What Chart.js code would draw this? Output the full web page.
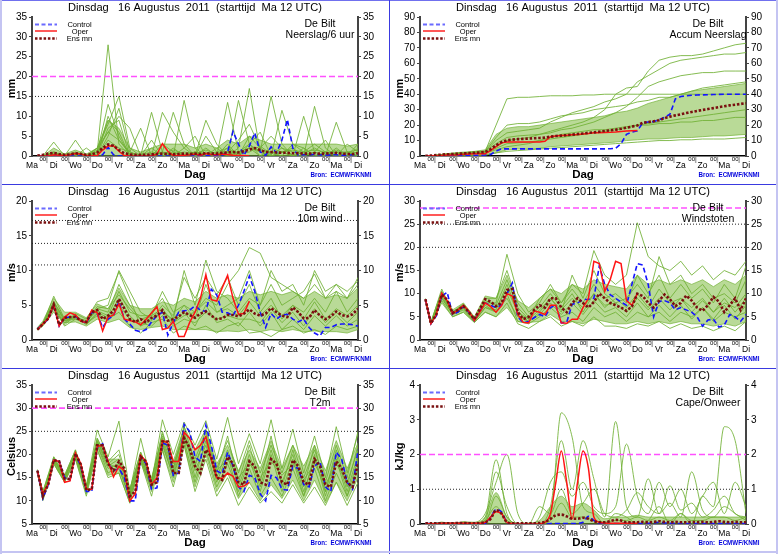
<!DOCTYPE html>
<html>
<head>
<meta charset="utf-8">
<script src="https://cdn.jsdelivr.net/npm/chart.js@4.4.1/dist/chart.umd.min.js"></script>
<style>
  html, body { margin: 0; padding: 0; background: #fff; }
  #wrap { position: relative; width: 778px; height: 554px; overflow: hidden; }
  #wrap canvas { position: absolute; }
  .ln { position: absolute; }
</style>
</head>
<body>
<div id="wrap"></div>
<script>
// ===== Tijdas =====
const tickLabels = ['Ma','00','Di','00','Wo','00','Do','00','Vr','00','Za','00','Zo','00','Ma','00',
                    'Di','00','Wo','00','Do','00','Vr','00','Za','00','Zo','00','Ma','00','Di'];
const hours6 = Array.from({length: 60}, (_, i) => 6 + i * 6);      // 6-uurs stappen
const hours12 = [6].concat(Array.from({length: 30}, (_, i) => 12 + i * 12));

// ===== Neerslag / 6 uur =====
const precipControl = [0,0,0,0, 0,0,0,0, 0,0,0,0.1, 0.3,2.2,0.3,0, 0,0,0,0, 0,0,0,0, 0,0,0,0, 0,0,0.1,0.1,
  0,0.1,0.2,1.0, 6.2,3.0,0.2,2.5, 5.8,1.0,0.2,2.3, 0.8,4.0,9.2,2.0, 0.2,0.3,0.3,0.4, 0.3,0.2,0.3,0.3, 0.2,0.2,0.3,0.3];
const precipOper = [0,0,0,0.3, 0.2,0.1,0.3,0.6, 0.5,0.1,0,0.1, 1.5,2.5,2.6,1.2, 0.1,0,0,0, 0,0,0.5,3.1,
  1.2,0.1,0.1,0.2, 0.3,0.5,0.2,0.6, 0.4,0.3,0.5,0.4, 0.2,0.1,0.1,0];
const precipMean = [0.1,0.3,0.6,0.8, 0.5,0.3,0.4,0.7, 0.5,0.3,0.4,0.9, 2.0,2.9,2.6,1.5, 0.7,0.4,0.3,0.3,
  0.3,0.4,0.5,0.6, 0.5,0.4,0.5,0.6, 0.5,0.6,0.5,0.7, 0.6,0.6,0.8,0.9, 1.0,0.9,1.2,1.6, 2.0,1.5,1.0,1.0,
  0.9,0.8,0.8,0.7, 0.7,0.6,0.6,0.7, 0.6,0.6,0.7,0.8, 0.6,0.5,0.5,0.7];
const precipHi = [0,0,2,0.5,1.5,0.5,2,9,7,2,1,2,3,3,3,2,3,2,4,3,5,4,3,3,3,3,3,3,3,2.5,3];
const precipMembers = [
  [0,0,0.5,0,0,0,1,28,3,0,0,0,0,2,0,0,1,0,3,0,2,0,1,0,0,2,0,1,0,0,1],
  [0,0,1,0,0.5,0,2,8,15,2,0,0,0,0,0,1,0,0,2,0,5,2,0,1,0,0,1,0,2,0,0],
  [0,0,3.5,0,0,0,1,13,5,0,0,4,0,0,14,2,0,0,1,0,3,1,0,0,3,1,0,0,1,0,0],
  [0,0,0,0,4,0,2,6,10,7,0,11,1,11,3,0,5,1,0,14,3,0,2,1,0,0,12.5,2,0,1,0],
  [0,0,0,0,0,2,0,10,4,1,0,0,11,6,2,0,9,3,0,2,17,1,0,11.5,3,2,0,1,0,0,2],
  [0,0,0,0,0,0,0,5,12,1,7,0,1,0,2,5,0,0,13.5,1,2,1,15,3,0,10,1,0,8.5,1,0],
  [0,0,1,0,0,0,0,4,2,1,0,0,3,1,0,0,2,0,1,4,8,2,5,2,0,1,3,1,0,3,1],
  [0,0,0,0,1,0,0,7,9,0,0,2,0,1,0,1,0,2,0,1,3,6,0,1,2,0,1,4,0,0,3],
  [0,0,0.5,0,0.3,0,1.5,6,4,0.5,0,0.5,1,0.5,1,0.5,1.5,0.5,1,1,2,1.5,1,1,1.5,1,1.5,1,1,1,1.5],
  [0,0,0.8,0.2,0.8,0.2,0.5,9,6,0,0.3,1,0.5,1.5,0.5,1,0.5,1,2,0.5,1,2.5,0.5,2,1,0.5,2,0.5,1.5,0.5,1]
];
const precipWarn = [20];
const precipDotted = [15];

// ===== Accum Neerslag =====
const accumControl = [0,0,0,0.1, 0.2,0.3,0.4,0.5, 0.5,0.5,0.5,0.6, 1.0,3.2,4.6,4.6, 4.6,4.6,4.6,4.6,
  4.6,4.6,4.6,4.6, 4.6,4.6,4.6,4.6, 4.6,4.6,4.6,4.6, 4.6,4.6,4.7,5.0, 8.0,14.0,15.5,16.3, 21.5,22.0,22.2,23.5,
  25.0,27.0,37.0,38.5, 39.0,39.3,39.5,39.6, 39.7,39.8,39.9,40.0, 40.0,40.0,40.0,40.0];
const accumOper = [0,0.1,0.2,0.4, 0.6,0.7,0.8,1.1, 1.3,1.4,1.4,1.5, 3.5,6.0,8.5,9.0, 9.0,9.0,9.0,9.0,
  9.0,9.0,9.5,12.5, 13.0,13.2,13.4,13.8, 14.0,14.3,14.6,15.0, 15.1,15.2,15.3,15.5, 15.8,16.2,16.4,16.5];
const accumMean = [0.1,0.3,0.6,0.9, 1.1,1.3,1.5,1.7, 1.9,2.1,2.3,2.6, 4.5,7.0,9.0,10.2, 10.6,10.9,11.1,11.3,
  11.5,11.7,11.9,12.5, 12.9,13.2,13.5,13.8, 14.2,14.6,15.0,15.3, 15.7,16.2,16.6,17.0, 17.6,18.3,19.0,19.8,
  21.5,22.0,22.5,23.2, 24.5,25.5,26.3,27.0, 27.8,28.5,29.2,29.8, 30.4,31.0,31.6,32.2, 32.8,33.2,33.7,34.2];
const accumLo = [0,0,0,0,0.3,0.5,0.8,2,4,4.5,4.5,5,6,6.5,7,7.5,8,8.5,9,10,10.5,11,11,11.5,12,12,12.5,13,13,13.5,14];
const accumHi = [0,0,1,2,2.5,3,4,14,18,19,19,20,21,22,23,24,25,26,28,29,31,34,36,38,40,42,43,44,45,46,47];
const accumMembers = [
  [0,0,1,1.5,2,2.5,3,20,37,38,38,38.5,39,39,39,39.5,39.5,40,40,40,40,40,40,40,40,40,40,40,40,40,40],
  [0,0,0.5,1,1.5,2,3,8,12,13,13.5,14,16,18,20,22,25,30,40,44,45,55,62,64,65,65,66,68,70,72,73],
  [0,0,1,1.5,2,2.5,3,10,15,16,17,18,22,25,28,30,32,35,37,40,48,52,56,60,62,63,64,65,66,66,67],
  [0,0,0.5,1,1.2,1.5,2,6,10,11,12,14,15,17,18,20,22,25,28,32,38,45,48,50,52,53,54,54,55,55,55],
  [0,0,0,0,0,0.3,0.5,2,3,3.5,4,4.5,5,5.5,6,6.5,7,7.5,8,8.5,9,9.5,10,10,10.5,10.5,11,11,11,11.5,12],
  [0,0,1,1.5,2,2.5,3,12,20,21,21,22,24,26,27,28,30,31,32,33,35,36,38,38,40,42,44,45,46,47,48],
  [0,0,0.5,1,1.5,2,2.5,5,8,8.5,9,10,11,12,13,14,15,16,17,18,20,21,22,23,24,25,26,27,28,29,30],
  [0,0,0.5,1,1,1.5,2,4,6,7,8,10,12,14,15,16,17,17,18,19,20,20,21,21,22,22,23,23,24,25,25]
];
const accumWarn = [];
const accumDotted = [];

// ===== 10m wind =====
const windControl = [1.6,2.3,3.0,5.1, 2.0,3.2,3.3,3.4, 2.8,2.4,4.0,3.8, 1.8,3.0,3.5,5.5, 3.0,2.3,1.4,1.2,
  1.5,2.6,3.5,4.0, 0.7,2.5,4.0,4.2, 4.3,4.9,4.3,4.1, 7.3,6.5,4.0,3.9, 3.5,5.0,7.0,9.2, 7.0,4.0,1.8,3.8,
  3.0,3.6,3.7,3.0, 2.6,3.0,1.8,1.0, 0.6,1.8,1.8,2.2, 2.3,2.3,2.2,2.0];
const windOper = [1.5,2.3,3.1,5.1, 2.0,3.3,3.9,3.6, 2.7,2.5,4.3,3.9, 1.3,3.3,3.6,5.2, 3.0,2.8,2.6,2.2,
  3.0,3.9,4.8,1.5, 1.7,2.7,0.5,0.5, 2.5,4.0,6.0,9.4, 5.8,5.6,7.5,9.3, 6.0,3.7,3.8,5.6];
const windMean = [1.5,2.3,3.1,5.1, 2.2,3.2,3.3,3.3, 2.8,2.6,4.0,4.3, 3.0,3.5,4.2,5.9, 4.5,3.0,2.6,3.0,
  2.5,3.2,3.5,4.3, 2.8,3.0,3.4,4.0, 3.6,3.2,3.8,4.1, 3.5,3.0,3.1,3.6, 3.6,3.4,3.8,4.4, 3.8,3.5,3.8,4.6,
  4.0,3.5,3.3,4.7, 4.0,3.1,3.2,4.3, 3.5,3.0,3.4,4.1, 3.6,3.4,3.7,4.5];
const windLo = [1.4,2.0,4.0,2.5,2.6,2.0,3.0,2.5,3.0,1.8,1.5,1.8,2.0,1.5,1.5,1.5,1.5,1.2,1.3,1.2,1.5,1.2,1.5,1.2,1.5,1.2,1.3,1.2,1.2,1.0,1.5];
const windHi = [1.8,2.7,6.0,4.0,4.0,3.2,5.2,4.5,7.5,5.0,4.5,4.5,5.5,5.0,6.0,5.5,7.0,6.0,6.5,6.0,7.0,6.5,7.0,6.5,7.0,6.0,7.0,6.0,6.5,6.0,7.5];
const windMembers = [
  [1.5,2.3,6.3,3,3.5,2.5,4.5,5,10,7,4,3,4,3,5,4,6,5,8,10,13.3,12.5,9,8,7,6,8,6,7,6,9],
  [1.6,2.2,5,2.5,3.8,3,5.5,6,9.8,6,2,4,6,3,10,5,11.5,7,6,4,6,5,10,7,8,5,10,7,8,6,8],
  [1.5,2.4,4.5,2,3,2.4,3.5,3,4,2,1,2.5,3,1,2,1.5,2,1,2,2.5,1,1.2,0.5,1.5,2,1,1.5,0.8,2,1.5,2],
  [1.7,2.5,5.5,3,3.2,2.8,4.2,3.5,7,4,3.5,3.5,7,4,5,3,8,4,5,6,10,5,8,5,6,7,9.5,6,8,7,8.5],
  [1.6,2.2,4.8,2.2,3.5,2.2,3.8,2.8,5,3,2.5,2,3.5,2.5,4,2,5,2.5,3,2,4,2,4,1.5,3,1.5,3.5,2,3.5,2,3],
  [1.5,2.3,5.2,2.8,3,2.6,4.5,4,8,5,3,3,5,3.5,9,6,9,6.5,9,5,8,4,6,3,5,4,6,4,7,4,6],
  [1.5,2.3,5.5,2.8,3.3,2.6,4.8,4.5,6.5,4.5,3,3.5,4.5,2.5,3.5,4,5.5,4,4.5,3.5,5.5,3.5,5,3.5,5,3,5.5,3,4.5,3.5,5],
  [1.6,2.2,4.6,2.4,3.6,2.3,4,3.2,6,3.5,2,2.8,4,2,3,2.5,4,3,3.5,3,3,2.5,4.5,2.5,4,2,4.5,2.5,4,2.5,4]
];
const windWarn = [];
const windDotted = [10.8, 13.9, 17.2];

// ===== Windstoten =====
const gustControl = [8.8,3.5,5.2,9.5, 10.3,5.5,6.0,7.3, 6.0,4.2,6.2,8.0, 7.5,7.0,7.5,10.0, 12.3,5.0,3.7,4.0,
  4.8,5.5,5.0,7.0, 7.5,3.7,3.8,7.7, 8.0,8.7,8.8,9.0, 16.0,12.0,9.8,9.0, 8.2,7.5,12.0,16.5, 16.2,12.0,5.0,8.3,
  8.5,8.0,6.5,7.0, 6.5,6.0,5.0,3.0, 4.3,4.5,2.8,3.2, 5.5,5.0,4.0,5.5];
const gustOper = [8.8,3.5,5.5,10.1, 8.5,5.7,6.5,7.5, 6.2,4.2,6.0,8.0, 7.2,6.0,7.4,10.0, 9.5,5.5,3.8,3.7,
  6.3,6.0,5.5,7.5, 7.5,3.7,3.6,4.5, 4.5,7.0,9.0,17.0, 16.5,10.5,13.0,17.0, 16.5,8.5,7.5,10.0];
const gustMean = [8.8,3.6,5.5,9.8, 8.7,5.8,6.5,7.3, 6.0,4.5,6.7,8.8, 8.3,7.3,8.0,10.8, 11.0,6.0,4.5,5.0,
  6.5,7.5,7.0,9.0, 9.0,7.0,6.0,8.0, 9.0,8.0,7.0,8.2, 10.0,9.0,8.0,7.5, 7.0,6.3,7.2,10.0, 9.5,8.0,7.0,8.5,
  9.8,8.8,7.3,8.0, 9.6,8.5,7.0,6.3, 7.5,9.3,8.3,6.0, 7.5,9.0,6.5,9.0];
const gustLo = [8.5,3.3,8,5,6,3.8,6,5,7,4,3.8,4,5.5,4,4,3.5,4.5,4,3.5,3.5,4,3.5,4,3.5,4,3.5,3.5,3,3.5,3,4];
const gustHi = [9,4,10.5,6.5,8,5,9.5,9,14,8.5,7,9,11,10,12,11,13,12,11.5,11,14,12,13,12,13,12,13,11.5,13,12,14];
const gustMembers = [
  [8.8,3.6,10,6,7.5,4.5,8,8,18.5,10,6,8,12,8,12,10,19.3,14,12,14,25.3,18,16,15,17,14,16,13,15,14,17],
  [8.8,3.4,9,5.5,6.5,4,7,6.5,12,6,4,6,9,6,14,9,15,10,8,9,12,9,18,12,14,10,12,9,10,8,13],
  [8.8,3.5,8.5,5,6,3.8,6,5,8,3.5,2.5,4,5,3,4,3,5,3,3,2.5,3.5,3,4,2.5,3.5,2.5,3,2,3,2,4],
  [8.8,3.7,11,6,7.8,4.5,9,9,15,8,5,7,10,7,10,6,10,7,9,7,10,7,11,8,9,7,9,6,8,7,10],
  [8.8,3.5,9.5,5.8,7,4.2,7.5,6,10,4,3.5,5,7,5,6,4,7,5,6,4,6,5,6,4,6,5,7,4,6,5,6],
  [8.8,3.6,10.5,6.2,7.2,4.8,8.5,7.5,13,7,4.5,9,11,8,11,8,12,9,10,8,14,10,14,9,12,9,11,8,12,9,16],
  [8.8,3.5,10,6,7.3,4.5,8,7,11,6,4.5,6.5,9,6.5,9,7,10,7.5,8,6,9,6.5,9,6.5,9,6,8.5,6,9,6,9],
  [8.8,3.6,9.2,5.6,6.8,4,7,6,9,5,4,5.5,8,5.5,8,5.5,8.5,6,7,5,8,5,7.5,5,7.5,4.5,7,4.5,7.5,4.5,7.5]
];
const gustWarn = [28.5];
const gustDotted = [20, 25];

// ===== T2m =====
const tempControl = [16.5,10.5,13.5,18.8, 18.5,15.0,14.5,20.0, 17.5,12.0,12.0,21.5, 22.3,18.0,16.5,17.0,
  15.0,10.0,10.0,19.5, 18.0,12.5,12.8,22.5, 22.0,15.5,16.0,26.5, 25.0,19.5,18.5,26.3, 22.0,16.5,15.8,20.5,
  17.5,13.0,12.0,15.5, 15.0,11.5,10.0,15.5, 15.0,12.5,12.3,17.5, 17.0,13.5,13.0,17.5, 18.5,13.0,12.0,20.5,
  19.0,14.0,12.5,21.0];
const tempOper = [16.5,11.5,13.7,18.8, 18.5,14.0,14.3,20.3, 18.0,12.5,12.5,21.8, 22.0,18.5,15.2,17.5,
  16.5,10.0,11.5,19.8, 18.5,13.5,15.0,23.0, 22.5,18.5,18.5,24.8, 23.5,21.0,22.0,23.8, 19.0,15.0,14.8,16.0,
  15.3,13.0,13.2,14.0];
const tempMean = [16.5,11.0,13.6,18.8, 18.5,14.8,14.7,20.2, 17.8,12.3,12.5,22.0, 22.0,18.0,16.5,18.5,
  17.0,11.0,12.0,19.5, 18.5,13.5,14.0,22.8, 22.8,16.0,16.0,23.5, 21.5,17.5,16.0,21.0, 19.5,15.0,14.5,19.5,
  18.0,14.0,13.5,18.5, 17.5,14.0,13.5,19.0, 18.0,14.0,13.5,18.8, 17.5,14.0,13.5,19.0, 17.5,13.5,13.0,18.5,
  17.0,14.0,13.0,18.0];
const tempLo = [16.3,10,18,14,19,11.5,21,15.5,16,9.5,18.5,12,21,14,22,13,20,12,16,10.5,14,10,13.5,10.5,14.5,10,14.5,9.5,14,10,15];
const tempHi = [16.8,12,19.5,15.5,21,13.5,23.5,19,19,12.5,20.5,15,24,18.5,26,21,25.5,18,22,16.5,21,17,23,17,22,17.5,22,16.5,23,17,22.5];
const tempMembers = [
  [16.5,10.5,19.5,15.5,21,13,25.3,19.5,27.2,12,23.5,14,27.5,20,27,22,27.3,19,28,18,24.5,18,27.5,17,25.5,16,24,15,26,16,24.5],
  [16.5,11,18.5,14.5,20,12.5,22,17,18,11,20,13,23,16,25,15,23,14,20,11,17,11,15,11,17,11,17,10,16,11,17],
  [16.5,10.2,18,14,19,11,21,15,16,9.5,18.5,11,21,13,22,12,19,11,15,9,13,9.5,12,9.5,13.5,9.5,13,9,14,9,14],
  [16.5,11.5,19,15,20.5,12.5,23,18,20,12,20,14,25,17,26,18,24,16,24,14,22,14,24,13,21,13,22,12,21,13,22],
  [16.5,12,19.2,15.2,20.5,13,23.5,18.5,21,12.5,20.5,14.5,24.5,18,24,19,25,17,23,16,23,16,22,16,22,15,21,14,22,15,25],
  [16.5,10.8,18.2,14.2,19.5,11.8,22,16,17.5,10.2,19,12.5,22.5,15,23,14,21,13,18,12,19,12,20,12,19,11,20,11,19,11,19],
  [16.5,11.2,18.8,14.8,20.2,12.2,22.5,17.5,19,11.5,19.5,13.5,23.5,17,24.5,16.5,22,15,21,13,20,13,21,14,20,12,19,12,20,12,20],
  [16.5,10.8,19,15,20,13,22.8,18,17,10.5,19,12.8,22,15.5,23.5,17.5,24,16.5,19,15,18,15,18.5,15.5,18,14.5,18,13.5,18,14,21]
];
const tempWarn = [30];
const tempDotted = [25];

// ===== Cape / Onweer =====
const capeControl = [0.01,0.01,0.01,0.01, 0.01,0.01,0.01,0.01, 0.01,0.01,0.01,0.02, 0.2,0.42,0.35,0.05,
  0,0,0,0, 0,0,0,0.01, 0.01,0.01,0.01,0.01, 0.02,0.05,0.22,0.1, 0.02,0.01,0.01,0.01, 0.01,0.01,0.01,0.01,
  0.02,0.02,0.03,0.05, 0.03,0.02,0.02,0.01, 0.01,0.01,0.01,0.01, 0.01,0.01,0.01,0.01, 0.01,0.01,0.01,0.01];
const capeOper = [0.01,0.01,0.01,0.02, 0.02,0.02,0.02,0.02, 0.02,0.02,0.02,0.05, 0.2,0.35,0.3,0.05,
  0.01,0,0,0, 0,0.01,0.05,0.3, 1.2,2.1,1.2,0.15, 1.2,2.1,1.6,0.2, 0.05,0.03,0.02,0.02, 0.02,0.02,0.02,0.02];
const capeMean = [0.02,0.02,0.02,0.02, 0.02,0.02,0.03,0.03, 0.02,0.02,0.03,0.05, 0.15,0.4,0.3,0.05,
  0.02,0.02,0.02,0.02, 0.02,0.03,0.06,0.15, 0.25,0.27,0.22,0.15, 0.15,0.18,0.15,0.08, 0.05,0.05,0.08,0.12,
  0.1,0.05,0.05,0.05, 0.06,0.05,0.06,0.08, 0.06,0.05,0.06,0.05, 0.05,0.06,0.05,0.06, 0.05,0.06,0.08,0.06,
  0.05,0.06,0.05,0.05];
const capeHi = [0.02,0.02,0.05,0.03,0.06,0.04,0.2,0.9,0.2,0.02,0.03,0.1,0.5,0.8,0.5,0.6,0.4,0.15,0.2,0.2,0.25,0.2,0.2,0.2,0.2,0.2,0.2,0.2,0.2,0.2,0.2];
const capeMembers = [
  [0,0,0.05,0,0.05,0,0.2,1.85,0.3,0,0,0,0.2,3.2,2.5,0.5,0.3,0,0.3,0.2,0,0.1,0.5,0,0.3,0,0.8,0.5,2.8,2.4,0.3],
  [0,0,0.03,0.02,0.05,0.05,0.3,1.2,2.0,0.3,0,0,0.5,2.4,1.0,2.4,1.3,0.2,2.95,0.5,0.2,1.3,0.3,0.6,0.2,1.5,0.4,0.2,0.5,0.3,0.1],
  [0,0,0,0,0.02,0,0.1,1.5,0.5,0,0,0.2,1.2,1.5,0.8,1.2,0.5,0.3,0.5,2.3,0.8,0.3,1.2,0.5,1.0,0.3,0.8,1.2,0.3,1.2,0.5],
  [0,0,0.02,0,0.05,0,0.05,0.8,0.2,0,0,0.5,0.3,1.0,0.3,0.6,1.0,0.3,0.2,0.4,0.9,0.5,0.3,1.1,0.4,0.6,0.2,0.4,0.8,0.3,0.2],
  [0,0,0.02,0,0.03,0,0.1,0.5,0.1,0,0,0,0.1,0.6,0.2,0.2,0.1,0.05,0.1,0.1,0.2,0.1,0.2,0.1,0.3,0.1,0.1,0.2,0.2,0.1,0.2]
];
const capeWarn = [2];
const capeDotted = [1];

// ===== Panelen =====
const panels = [
  { left: 0,   top: 0,   w: 388, h: 184, min: 0, max: 35, step: 5,  ylabel: 'mm',      name: 'Neerslag/6 uur',
    control: precipControl, oper: precipOper, mean: precipMean, lo: null, hi: precipHi, members: precipMembers, warn: precipWarn, dotted: precipDotted },
  { left: 388, top: 0,   w: 390, h: 184, min: 0, max: 90, step: 10, ylabel: 'mm',      name: 'Accum Neerslag',
    control: accumControl, oper: accumOper, mean: accumMean, lo: accumLo, hi: accumHi, members: accumMembers, warn: accumWarn, dotted: accumDotted },
  { left: 0,   top: 184, w: 388, h: 184, min: 0, max: 20, step: 5,  ylabel: 'm/s',     name: '10m wind',
    control: windControl, oper: windOper, mean: windMean, lo: windLo, hi: windHi, members: windMembers, warn: windWarn, dotted: windDotted },
  { left: 388, top: 184, w: 390, h: 184, min: 0, max: 30, step: 5,  ylabel: 'm/s',     name: 'Windstoten',
    control: gustControl, oper: gustOper, mean: gustMean, lo: gustLo, hi: gustHi, members: gustMembers, warn: gustWarn, dotted: gustDotted },
  { left: 0,   top: 368, w: 388, h: 186, min: 5, max: 35, step: 5,  ylabel: 'Celsius', name: 'T2m',
    control: tempControl, oper: tempOper, mean: tempMean, lo: tempLo, hi: tempHi, members: tempMembers, warn: tempWarn, dotted: tempDotted },
  { left: 388, top: 368, w: 390, h: 186, min: 0, max: 4,  step: 1,  ylabel: 'kJ/kg',   name: 'Cape/Onweer', smooth: true,
    control: capeControl, oper: capeOper, mean: capeMean, lo: null, hi: capeHi, members: capeMembers, warn: capeWarn, dotted: capeDotted }
];

Chart.defaults.font.family = "'Liberation Sans', Arial, sans-serif";
const FONT = "'Liberation Sans', Arial, sans-serif";
const GREEN = 'rgba(112,176,52,0.85)';
const BAND = 'rgba(128,188,66,0.55)';
const wrap = document.getElementById('wrap');

function pts(xs, ys) { return ys.map((v, i) => ({ x: xs[i], y: v })); }
function flat(v) { return [{ x: 0, y: v }, { x: 360, y: v }]; }

function txt(ctx, s, x, y, font, color, align, width) {
  ctx.save();
  ctx.font = font;
  ctx.fillStyle = color;
  ctx.textBaseline = 'middle';
  ctx.textAlign = align || 'center';
  const w = ctx.measureText(s).width;
  ctx.translate(x, y);
  if (width) ctx.scale(width / w, 1);
  ctx.fillText(s, 0, 0);
  ctx.restore();
}

function decor(p) {
  return {
    id: 'decor',
    afterDraw(chart) {
      const ctx = chart.ctx, a = chart.chartArea, xs = chart.scales.x;
      const mid = (a.left + a.right) / 2;

      // dagen en 00-uur labels, met grijs streepje rechts van elke 00
      tickLabels.forEach((lab, i) => {
        const px = xs.getPixelForValue(i * 12);
        if (lab === '00') {
          txt(ctx, lab, px, a.bottom + 3.8, '6px ' + FONT, '#000');
          ctx.save();
          ctx.strokeStyle = '#a8a8a8';
          ctx.lineWidth = 1.5;
          ctx.beginPath(); ctx.moveTo(px + 4, a.bottom + 1); ctx.lineTo(px + 4, a.bottom + 7); ctx.stroke();
          ctx.restore();
        } else {
          txt(ctx, lab, px, a.bottom + 9.5, '8.5px ' + FONT, '#000');
        }
      });

      txt(ctx, 'Dinsdag   16 Augustus  2011  (starttijd  Ma 12 UTC)', mid, 8, '11.5px ' + FONT, '#000', 'center', 254);
      txt(ctx, 'De Bilt', 320, 24, '10.5px ' + FONT, '#000');
      txt(ctx, p.name, 320, 35, '10.5px ' + FONT, '#000');
      txt(ctx, 'Dag', mid, a.bottom + 18.5, 'bold 11.5px ' + FONT, '#000');
      txt(ctx, 'Bron:  ECMWF/KNMI', 341, a.bottom + 19, 'bold 7px ' + FONT, '#0000dd', 'center', 61);

      ctx.save();
      ctx.translate(12, (a.top + a.bottom) / 2 + 2);
      ctx.rotate(-Math.PI / 2);
      txt(ctx, p.ylabel, 0, 0, 'bold 11px ' + FONT, '#000');
      ctx.restore();

      // legenda
      ctx.save();
      ctx.lineCap = 'butt';
      ctx.strokeStyle = '#6a6aff'; ctx.lineWidth = 2; ctx.setLineDash([4, 2.5]);
      ctx.beginPath(); ctx.moveTo(35, 24.5); ctx.lineTo(57, 24.5); ctx.stroke();
      ctx.strokeStyle = '#ff2020'; ctx.lineWidth = 1.5; ctx.setLineDash([]);
      ctx.beginPath(); ctx.moveTo(35, 31); ctx.lineTo(57, 31); ctx.stroke();
      ctx.strokeStyle = '#7a1010'; ctx.lineWidth = 2.5; ctx.setLineDash([2.5, 1.8]);
      ctx.beginPath(); ctx.moveTo(35, 38.5); ctx.lineTo(57, 38.5); ctx.stroke();
      ctx.restore();
      txt(ctx, 'Control', 79.5, 25, '7.5px ' + FONT, '#000');
      txt(ctx, 'Oper', 80, 31.8, '7.5px ' + FONT, '#000');
      txt(ctx, 'Ens mn', 79.5, 38.5, '7.5px ' + FONT, '#000');
    }
  };
}

function makeChart(p) {
  const cv = document.createElement('canvas');
  cv.width = p.w; cv.height = p.h;
  cv.style.left = p.left + 'px'; cv.style.top = p.top + 'px';
  cv.style.width = p.w + 'px'; cv.style.height = p.h + 'px';
  wrap.appendChild(cv);

  const extra = p.smooth ? { cubicInterpolationMode: 'monotone' } : { tension: 0 };
  const base = (data, color, width, dash, order) => Object.assign({
    data, borderColor: color, borderWidth: width, borderDash: dash, pointRadius: 0, fill: false, order, borderCapStyle: 'butt'
  }, extra);

  const datasets = [];
  datasets.push(base(pts(hours6, p.mean), '#7a1010', 2.6, [2.5, 1.8], 1));
  datasets.push(base(pts(hours6, p.oper), '#ff1414', 1.5, [], 2));
  datasets.push(base(pts(hours6, p.control), '#1414ff', 1.6, [5, 3], 3));
  p.warn.forEach(v => datasets.push(base(flat(v), '#ff50ff', 1.6, [6, 3], 4)));
  p.dotted.forEach(v => datasets.push(base(flat(v), '#222', 1, [1, 2], 4)));
  p.members.forEach(m => datasets.push(base(pts(hours12, m), GREEN, 1, [], 10)));
  if (p.lo) {
    datasets.push(base(pts(hours12, p.lo), GREEN, 0.8, [], 20));
    datasets.push(Object.assign(base(pts(hours12, p.hi), GREEN, 0.8, [], 20),
      { fill: '-1', backgroundColor: BAND }));
  } else {
    datasets.push(Object.assign(base(pts(hours12, p.hi), GREEN, 0.8, [], 20),
      { fill: 'origin', backgroundColor: BAND }));
  }

  const yAxis = (pos, width) => ({
    type: 'linear', position: pos, min: p.min, max: p.max,
    ticks: { stepSize: p.step, color: '#000', font: { size: 10 }, padding: 2, autoSkip: false },
    grid: { display: true, drawOnChartArea: false, drawTicks: true, tickLength: 3, color: '#444' },
    border: { display: true, color: '#444', width: 2 },
    afterFit: s => { s.width = width; }
  });

  new Chart(cv, {
    type: 'line',
    data: { datasets },
    options: {
      responsive: false, animation: false, events: [],
      layout: { padding: { top: 17, left: 0, right: 0, bottom: 0 } },
      plugins: { legend: { display: false }, tooltip: { enabled: false }, title: { display: false } },
      scales: {
        x: {
          type: 'linear', min: 0, max: 360,
          ticks: { display: false },
          grid: { display: false },
          border: { display: true, color: '#000', width: 1.5 },
          afterFit: s => { s.height = p.h - 17 - 139; }
        },
        y: yAxis('left', 32),
        y2: yAxis('right', p.w - 358)
      }
    },
    plugins: [decor(p)]
  });
}

panels.forEach(makeChart);

// ===== Kaderlijnen =====
const lines = [
  { l: 0, t: 0, w: 778, h: 1, c: '#7070ee' },
  { l: 389, t: 0, w: 1, h: 554, c: '#3a3ae0' },
  { l: 0, t: 184, w: 778, h: 1, c: '#3a3ae0' },
  { l: 0, t: 368, w: 778, h: 1, c: '#3a3ae0' },
  { l: 0, t: 0, w: 2, h: 554, c: '#c4c4f2' },
  { l: 776, t: 0, w: 2, h: 554, c: '#c4c4f2' },
  { l: 0, t: 551, w: 778, h: 2, c: '#c4c4f2' }
];
lines.forEach(d => {
  const el = document.createElement('div');
  el.className = 'ln';
  el.style.cssText = `left:${d.l}px;top:${d.t}px;width:${d.w}px;height:${d.h}px;background:${d.c};`;
  wrap.appendChild(el);
});
</script>
</body>
</html>
